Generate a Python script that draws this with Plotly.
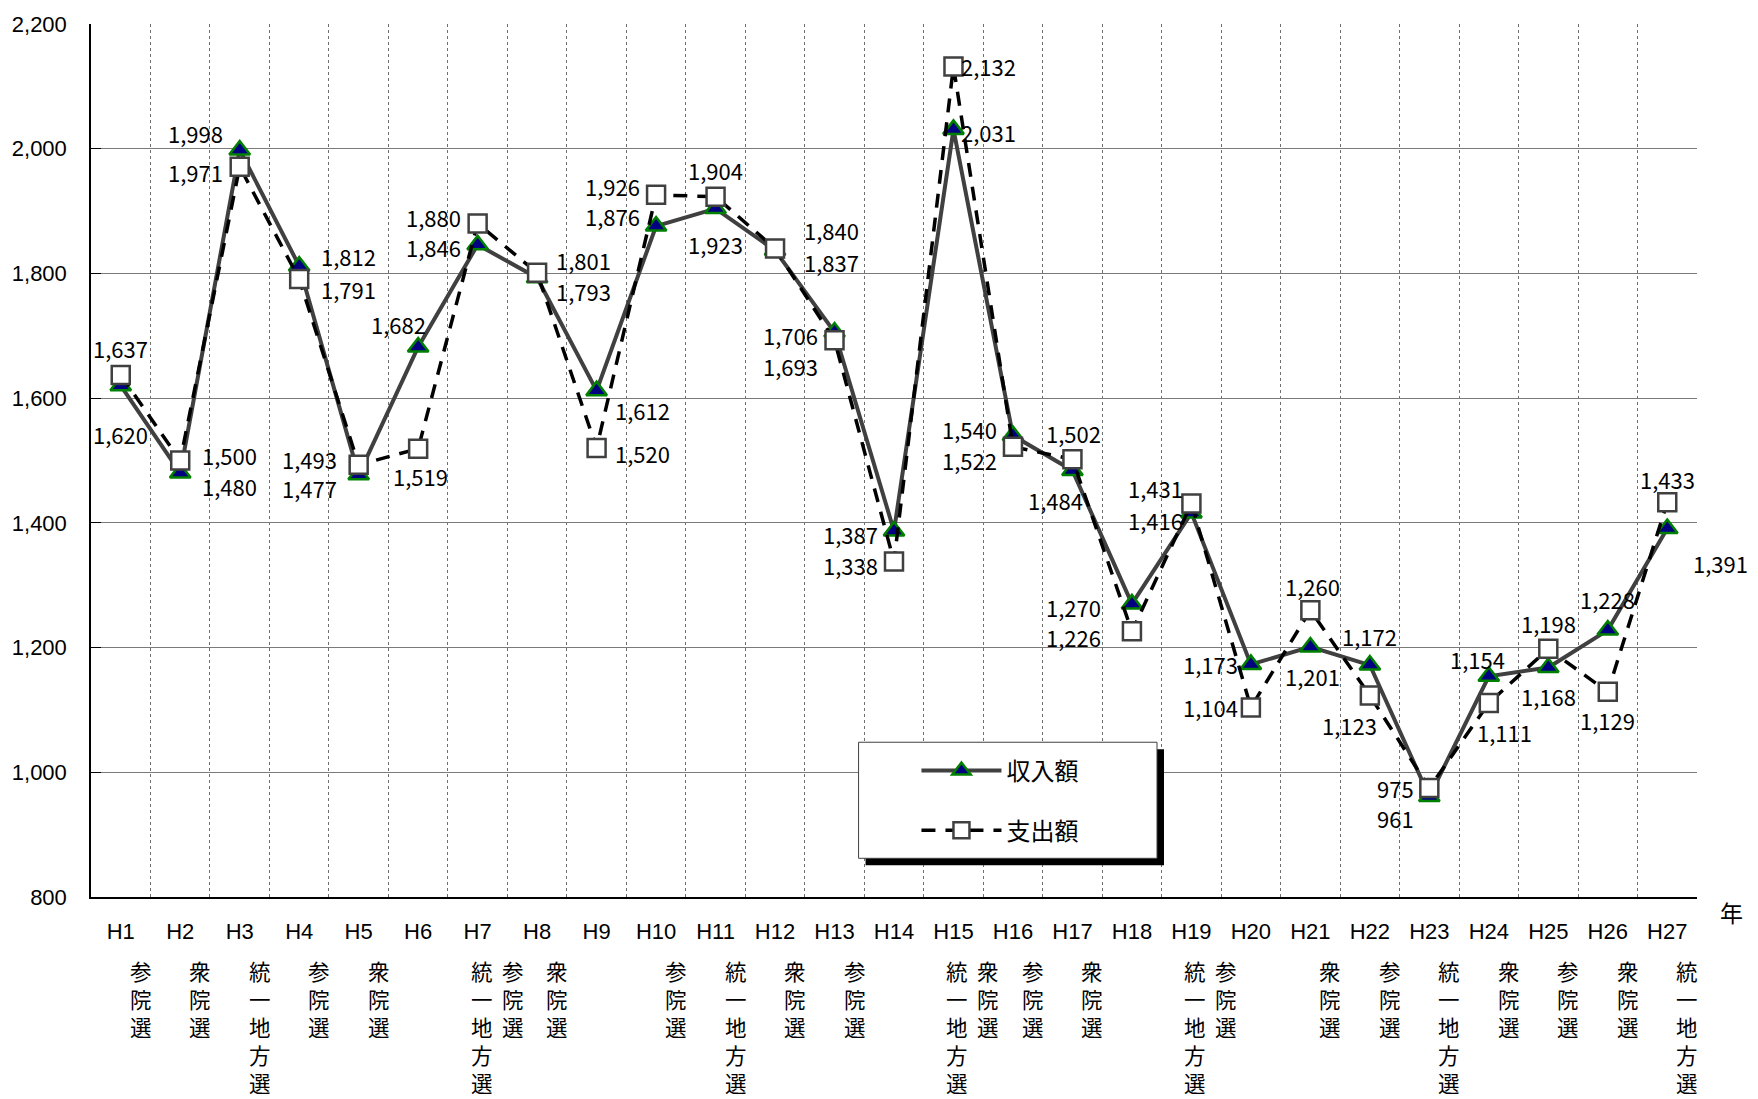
import plotly.graph_objects as go

years = ["H%d" % i for i in range(1, 28)]
income = [1620, 1480, 1998, 1812, 1477, 1682, 1846, 1793, 1612, 1876, 1904, 1837, 1706, 1387,
          2031, 1540, 1484, 1270, 1416, 1173, 1201, 1172, 961, 1154, 1168, 1228, 1391]
expense = [1637, 1500, 1971, 1791, 1493, 1519, 1880, 1801, 1520, 1926, 1923, 1840, 1693, 1338,
           2132, 1522, 1502, 1226, 1431, 1104, 1260, 1123, 975, 1111, 1198, 1129, 1433]
elec1 = ["参院選", "衆院選", "統一地方選", "参院選", "衆院選", "", "統一地方選", "衆院選", "",
         "参院選", "統一地方選", "衆院選", "参院選", "", "統一地方選", "参院選", "衆院選", "",
         "統一地方選", "", "衆院選", "参院選", "統一地方選", "衆院選", "参院選", "衆院選", "統一地方選"]
elec2 = ["", "", "", "", "", "", "参院選", "", "", "", "", "", "", "", "衆院選", "", "", "",
         "参院選", "", "", "", "", "", "", "", ""]

# label offsets (style only), px
inc_off = [(0, 43), (44, 12), (-39, -15), (44, -9), (-44, 12), (-17, -20), (-39, 2), (41, 12),
           (41, 17), (-39, -9), (0, -34), (50, 10), (-39, 3), (-39, 3), (31, 2), (-39, -6),
           (-15, 26), (-52, 3), (-32, 6), (-36, 0), (2, 26), (0, -26), (-30, 19), (-10, -15),
           (0, 25), (0, -28), (47, 31)]
exp_off = [(0, -24), (44, -5), (-39, 5), (44, 9), (-44, -5), (2, 24), (-39, -6), (41, -11),
           (41, 4), (-39, -8), (0, 42), (50, -16), (-39, 23), (-39, 3), (31, 0), (-39, 12),
           (1, -23), (-52, 5), (-32, -14), (-36, 0), (2, -21), (-18, 26), (-30, 0), (14, 26),
           (0, -23), (0, 25), (0, -21)]
S = 1.127

W, H = 1758, 1099
L, R, T, B = 88, 1697, 17, 897
pw, ph = R - L, B - T

xs = list(range(1, 28))
fig = go.Figure()
fig.add_trace(go.Scatter(
    x=xs, y=income, name="収入額", mode="lines+markers",
    line=dict(color="#404040", width=4),
    marker=dict(symbol="triangle-up", size=18, color="#000080",
                line=dict(color="#008000", width=2.5)),
    legend="legend"))
fig.add_trace(go.Scatter(
    x=xs, y=expense, name="支出額", mode="lines+markers",
    line=dict(color="#000000", width=3.5, dash="14px,10px"),
    marker=dict(symbol="square", size=18, color="#ffffff",
                line=dict(color="#404040", width=2.5)),
    legend="legend2"))

ann = []
lab_font = dict(family="Noto Sans CJK JP", size=22, color="#000")
for i in range(27):
    ann.append(dict(x=xs[i], y=income[i], xref="x", yref="y", text=f"{income[i]:,}",
                    showarrow=False, xshift=inc_off[i][0] * S, yshift=-inc_off[i][1] * S,
                    font=lab_font))
    ann.append(dict(x=xs[i], y=expense[i], xref="x", yref="y", text=f"{expense[i]:,}",
                    showarrow=False, xshift=exp_off[i][0] * S, yshift=-exp_off[i][1] * S,
                    font=lab_font))
sub_font = dict(family="Noto Sans CJK JP", size=21.5, color="#000")
for i in range(27):
    cols = []
    if elec1[i]:
        cols.append((elec1[i], 4 if elec2[i] else 20))
    if elec2[i]:
        cols.append((elec2[i], 35))
    for txt, dx in cols:
        ann.append(dict(x=xs[i], y=0, xref="x", yref="paper", yanchor="top",
                        text="<br>".join(txt), showarrow=False, xshift=dx, yshift=-56,
                        font=sub_font))
ann.append(dict(x=(1745 - L) / pw, y=-(931 - B) / ph, xref="paper", yref="paper",
                text="年", showarrow=False, font=dict(family="Noto Sans CJK JP", size=23,
                                                     color="#000")))

# legend box with shadow
bx0, bx1, by0, by1 = 857, 1156, 741, 858
def px(x): return (x - L) / pw
def py(y): return (B - y) / ph
shapes = [
    dict(type="rect", xref="paper", yref="paper", x0=px(bx0 + 7), x1=px(bx1 + 7),
         y0=py(by1 + 7), y1=py(by0 + 7), fillcolor="#000", line=dict(width=0), layer="above"),
    dict(type="rect", xref="paper", yref="paper", x0=px(bx0), x1=px(bx1),
         y0=py(by1), y1=py(by0), fillcolor="#fff", line=dict(color="#404040", width=1),
         layer="above"),
]

leg_font = dict(family="Noto Sans CJK JP", size=24, color="#000")
fig.update_layout(
    width=W, height=H,
    margin=dict(l=L, r=W - R, t=T, b=H - B),
    paper_bgcolor="#fff", plot_bgcolor="#fff",
    showlegend=True,
    legend=dict(x=px(915), y=py(770), xanchor="left", yanchor="middle",
                bgcolor="rgba(0,0,0,0)", font=leg_font, itemwidth=80),
    legend2=dict(x=px(915), y=py(830), xanchor="left", yanchor="middle",
                 bgcolor="rgba(0,0,0,0)", font=leg_font, itemwidth=80),
    annotations=ann, shapes=shapes,
    xaxis=dict(range=[0.5, 27.5], tickvals=xs, ticktext=years, showgrid=False,
               ticks="", tickfont=dict(family="Liberation Sans", size=22, color="#000"),
               ticklabelstandoff=14,
               showline=True, linecolor="#000", linewidth=2, zeroline=False,
               minor=dict(tickvals=[i + 0.5 for i in range(28)], showgrid=True,
                          gridcolor="#707070", gridwidth=1, griddash="dot", ticks="")),
    yaxis=dict(range=[800, 2200], tickvals=list(range(800, 2201, 200)), tickformat=",d",
               showgrid=False,
               minor=dict(tickvals=list(range(1000, 2001, 200)), showgrid=True,
                          gridcolor="#7a7a7a", gridwidth=1.3, ticks=""),
               ticks="inside", ticklen=10, tickcolor="#000",
               tickfont=dict(family="Liberation Sans", size=22, color="#000"),
               ticklabelstandoff=18,
               showline=True, linecolor="#000", linewidth=1.5, zeroline=False),
)
fig.write_html("out.html", config={"displayModeBar": False},
               post_script="document.body.style.margin='0';document.body.style.overflow='hidden';")
